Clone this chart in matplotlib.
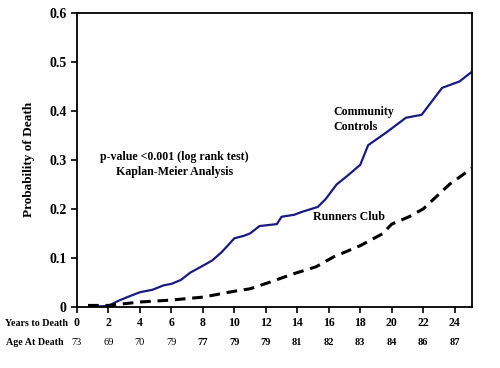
import matplotlib.pyplot as plt
import matplotlib.transforms as mtransforms

plt.rcParams['font.family'] = ['Liberation Serif', 'DejaVu Serif']

# community controls (solid navy)
cc_years = [0.8, 2.0, 2.6, 3.2, 4.0, 4.8, 5.5, 6.0, 6.6, 7.2, 8.0, 8.6, 9.2, 10.0, 10.6, 11.0,
            11.6, 12.7, 13.0, 13.8, 14.3, 15.3, 15.8, 16.5, 17.2, 18.0, 18.5, 19.7, 20.9,
            21.9, 23.2, 24.3, 25.1]
cc_prob = [0.0, 0.002, 0.012, 0.02, 0.03, 0.035, 0.044, 0.047, 0.055, 0.07, 0.084, 0.095,
           0.112, 0.14, 0.145, 0.15, 0.165, 0.169, 0.184, 0.188, 0.194, 0.204, 0.22, 0.25,
           0.268, 0.29, 0.33, 0.357, 0.386, 0.392, 0.447, 0.46, 0.48]

# runners club (dashed black)
rc_years = [0.7, 2.0, 4.0, 6.0, 8.0, 10.0, 11.0, 12.3, 13.7, 15.2, 16.3, 18.0, 19.4, 20.0,
            21.1, 22.0, 23.7, 25.1]
rc_prob = [0.003, 0.003, 0.01, 0.014, 0.02, 0.032, 0.037, 0.051, 0.067, 0.082, 0.102, 0.125,
           0.149, 0.169, 0.184, 0.2, 0.251, 0.283]

year_ticks = [0, 2, 4, 6, 8, 10, 12, 14, 16, 18, 20, 22, 24]
age_at_death = ['73', '69', '70', '79', '77', '79', '79', '81', '82', '83', '84', '86', '87']
y_ticks = [0, 0.1, 0.2, 0.3, 0.4, 0.5, 0.6]
y_labels = ['0', '0.1', '0.2', '0.3', '0.4', '0.5', '0.6']

fig = plt.figure(figsize=(5, 3.68), dpi=100)
ax = fig.add_axes([0.154, 0.166, 0.79, 0.799])

ax.plot(cc_years, cc_prob, color='#1a1a80', lw=1.6)
ax.plot(rc_years, rc_prob, color='black', lw=2.2, dashes=(3.5, 2.2))

ax.set_xlim(0, 25.1)
ax.set_ylim(0, 0.6)
ax.set_xticks(year_ticks)
ax.set_xticklabels([str(t) for t in year_ticks], fontsize=8.5, fontweight='bold')
ax.set_yticks(y_ticks)
ax.set_yticklabels(y_labels, fontsize=10, fontweight='bold')
ax.tick_params(axis='both', direction='out', length=4, width=1.2, color='black')
ax.tick_params(axis='x', pad=3)
for s in ax.spines.values():
    s.set_linewidth(1.3)

ax.set_ylabel('Probability of Death', fontsize=9.5, fontweight='bold', labelpad=10)

trans = mtransforms.blended_transform_factory(ax.transData, ax.transAxes)
for i, (t, a) in enumerate(zip(year_ticks, age_at_death)):
    ax.text(t, -0.122, a, transform=trans, ha='center', va='center', fontsize=7.5,
            fontweight='normal' if i < 4 else 'bold')

fig.text(0.01, 0.122, 'Years to Death', ha='left', va='center', fontsize=7.2, fontweight='bold')
fig.text(0.012, 0.068, 'Age At Death', ha='left', va='center', fontsize=7.2, fontweight='bold')

ax.text(6.2, 0.306, 'p-value <0.001 (log rank test)', ha='center', va='center',
        fontsize=8.6, fontweight='bold')
ax.text(6.2, 0.275, 'Kaplan-Meier Analysis', ha='center', va='center',
        fontsize=8.6, fontweight='bold')
ax.text(16.3, 0.382, 'Community\nControls', ha='left', va='center', fontsize=8.6,
        fontweight='bold', linespacing=1.35)
ax.text(17.3, 0.184, 'Runners Club', ha='center', va='center', fontsize=8.6, fontweight='bold')

fig.savefig('out.png', dpi=100)
